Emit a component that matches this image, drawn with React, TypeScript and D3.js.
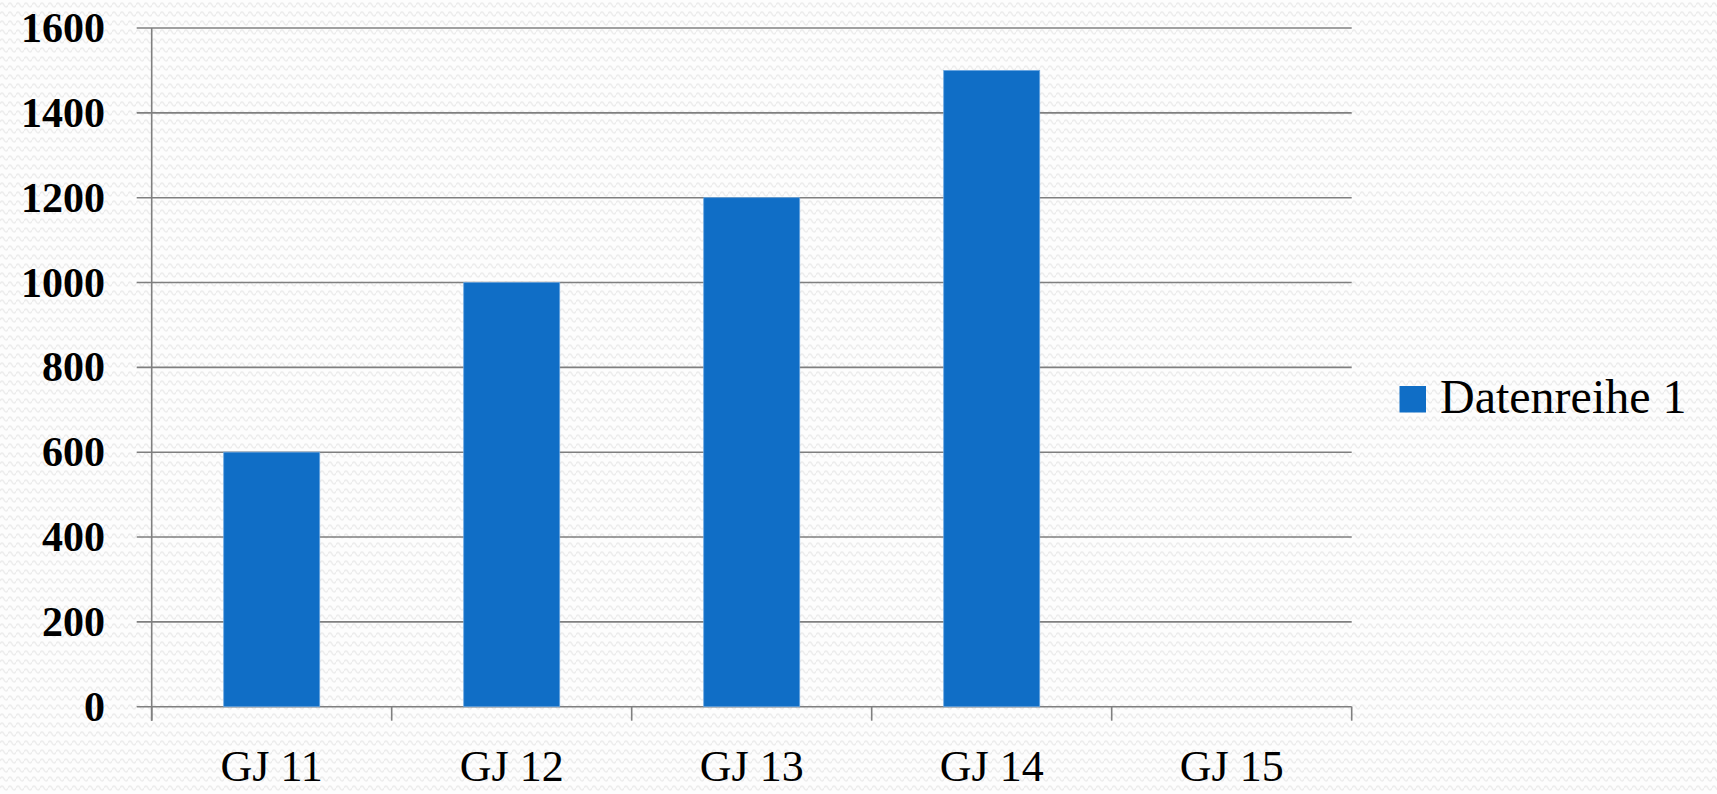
import React from "react";
import * as d3 from "d3";

const categories: string[] = ["GJ 11", "GJ 12", "GJ 13", "GJ 14", "GJ 15"];
const seriesValues: (number | null)[] = [600, 1000, 1200, 1500, null];
const yTicks: number[] = [0, 200, 400, 600, 800, 1000, 1200, 1400, 1600];
const seriesName = "Datenreihe 1";

const W = 1717;
const H = 794;
const left = 151.7;
const right = 1351.7;
const top = 28;
const bottom = 706.7;
const FONT = "'Liberation Serif', 'DejaVu Serif', serif";
const BAR = "#106EC6";
const GRID = "#7f7f7f";

export default function App() {
  const x = d3.scaleBand<string>().domain(categories).range([left, right]).paddingInner(0.6).paddingOuter(0.3);
  const y = d3.scaleLinear().domain([0, 1600]).range([bottom, top]);
  const step = x.step();
  const boundaries = d3.range(categories.length + 1).map((i) => left + i * step);

  return (
    <svg width={W} height={H} style={{ position: "absolute", left: 0, top: 0 }}>
      <defs>
        <pattern id="wave" width="8" height="9" patternUnits="userSpaceOnUse">
          <rect width="8" height="9" fill="#fdfdfd" />
          <path d="M0,5 Q2,1 4,5 T8,5" fill="none" stroke="#ededed" strokeWidth="1.6" />
        </pattern>
      </defs>
      <rect width={W} height={H} fill="url(#wave)" />
      {yTicks.map((t) => (
        <g key={t}>
          <line x1={left - 15} x2={right} y1={y(t)} y2={y(t)} stroke={GRID} strokeWidth={1.6} />
          <text
            x={105}
            y={y(t) + 14}
            textAnchor="end"
            fontFamily={FONT}
            fontWeight="bold"
            fontSize={42}
            fill="#000"
          >
            {t}
          </text>
        </g>
      ))}
      <line x1={left} x2={left} y1={top} y2={bottom + 14} stroke={GRID} strokeWidth={1.6} />
      {boundaries.map((b, i) => (
        <line key={i} x1={b} x2={b} y1={bottom} y2={bottom + 14} stroke={GRID} strokeWidth={1.6} />
      ))}
      {categories.map((c, i) => {
        const v = seriesValues[i];
        if (v == null) return null;
        return (
          <rect
            key={c}
            x={x(c)}
            y={y(v)}
            width={x.bandwidth()}
            height={y(0) - y(v)}
            fill={BAR}
            stroke="#6aa6e0"
            strokeWidth={0.8}
          />
        );
      })}
      {categories.map((c) => (
        <text
          key={c}
          x={(x(c) as number) + x.bandwidth() / 2}
          y={781}
          textAnchor="middle"
          fontFamily={FONT}
          fontSize={44}
          fill="#000"
        >
          {c}
        </text>
      ))}
      <rect x={1399.5} y={386} width={26.5} height={26.5} fill={BAR} />
      <text x={1440} y={413} fontFamily={FONT} fontSize={48} fill="#000">
        {seriesName}
      </text>
    </svg>
  );
}
